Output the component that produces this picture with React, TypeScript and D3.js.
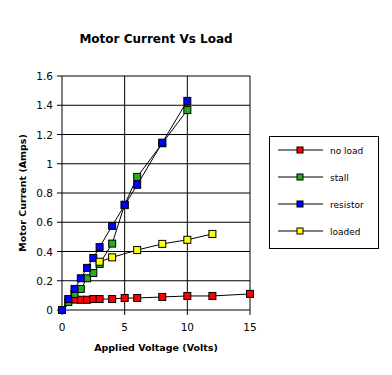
import React from 'react';
import * as d3 from 'd3';

// voltages and currents
const noLoadX = [0, 1, 1.5, 2, 2.5, 3, 4, 5, 6, 8, 10, 12, 15];
const noLoadY = [0, 0.071, 0.07, 0.07, 0.075, 0.075, 0.075, 0.082, 0.082, 0.089, 0.096, 0.096, 0.11];

const stallX = [0, 0.5, 1, 1.5, 2, 2.5, 3, 4, 5, 6, 8, 10];
const stallY = [0, 0.055, 0.11, 0.144, 0.217, 0.253, 0.315, 0.454, 0.72, 0.91, 1.14, 1.367];

const resistorX = [0, 0.5, 1, 1.5, 2, 2.5, 3, 4, 5, 6, 8, 10];
const resistorY = [0, 0.075, 0.144, 0.217, 0.288, 0.356, 0.43, 0.575, 0.717, 0.856, 1.144, 1.43];

const loadedX = [3, 4, 6, 8, 10, 12];
const loadedY = [0.33, 0.36, 0.41, 0.452, 0.48, 0.52];

const xTicks = [0, 5, 10, 15];
const yTicks = [0, 0.2, 0.4, 0.6, 0.8, 1, 1.2, 1.4, 1.6];

const series = [
    { name: 'no load', color: '#ff0000', xs: noLoadX, ys: noLoadY },
    { name: 'stall', color: '#1fb01f', xs: stallX, ys: stallY },
    { name: 'resistor', color: '#0000ff', xs: resistorX, ys: resistorY },
    { name: 'loaded', color: '#ffff00', xs: loadedX, ys: loadedY },
];

const font = '"DejaVu Sans", sans-serif';

export default function App() {
    const x = d3.scaleLinear().domain([0, 15]).range([62, 250]);
    const y = d3.scaleLinear().domain([0, 1.6]).range([310, 76]);

    const line = d3.line<[number, number]>()
        .x(d => x(d[0]))
        .y(d => y(d[1]));

    return (
        <svg width={392} height={375}
             style={{ position: 'absolute', left: 0, top: 0, background: '#fff' }}>
            <text x={156} y={43} textAnchor="middle" fontFamily={font}
                  fontWeight="bold" fontSize={12}>Motor Current Vs Load</text>

            {/* grid */}
            {yTicks.map(t => (
                <g key={'y' + t}>
                    <line x1={57} x2={250} y1={y(t)} y2={y(t)} stroke="#000" />
                    <text x={53} y={y(t) + 4} textAnchor="end" fontFamily={font}
                          fontSize={10.5}>{t}</text>
                </g>
            ))}
            {xTicks.map(t => (
                <g key={'x' + t}>
                    <line x1={x(t)} x2={x(t)} y1={y(1.6)} y2={315} stroke="#000" />
                    <text x={x(t)} y={331} textAnchor="middle" fontFamily={font}
                          fontSize={10.5}>{t}</text>
                </g>
            ))}

            {/* series */}
            {series.map(s => {
                const pts = s.xs.map((v, i) => [v, s.ys[i]] as [number, number]);
                return (
                    <g key={s.name}>
                        <path d={line(pts) || ''} fill="none" stroke="#000" strokeWidth={1} />
                        {pts.map((p, i) => (
                            <rect key={i} x={x(p[0]) - 3.5} y={y(p[1]) - 3.5} width={7} height={7}
                                  fill={s.color} stroke="#000" strokeWidth={1} />
                        ))}
                    </g>
                );
            })}

            <text x={156} y={351} textAnchor="middle" fontFamily={font}
                  fontWeight="bold" fontSize={9.5}>Applied Voltage (Volts)</text>
            <text transform="translate(26,193) rotate(-90)" textAnchor="middle"
                  fontFamily={font} fontWeight="bold" fontSize={9.5}>Motor Current (Amps)</text>

            {/* legend */}
            <rect x={269.5} y={136.5} width={109} height={112} fill="#fff" stroke="#000" />
            {series.map((s, i) => {
                const ly = 150 + i * 27;
                return (
                    <g key={'lg' + s.name}>
                        <line x1={278} x2={323} y1={ly} y2={ly} stroke="#000" />
                        <rect x={297} y={ly - 3} width={6} height={6} fill={s.color} stroke="#000" />
                        <text x={330} y={ly + 3.5} fontFamily={font} fontSize={9}>{s.name}</text>
                    </g>
                );
            })}
        </svg>
    );
}
